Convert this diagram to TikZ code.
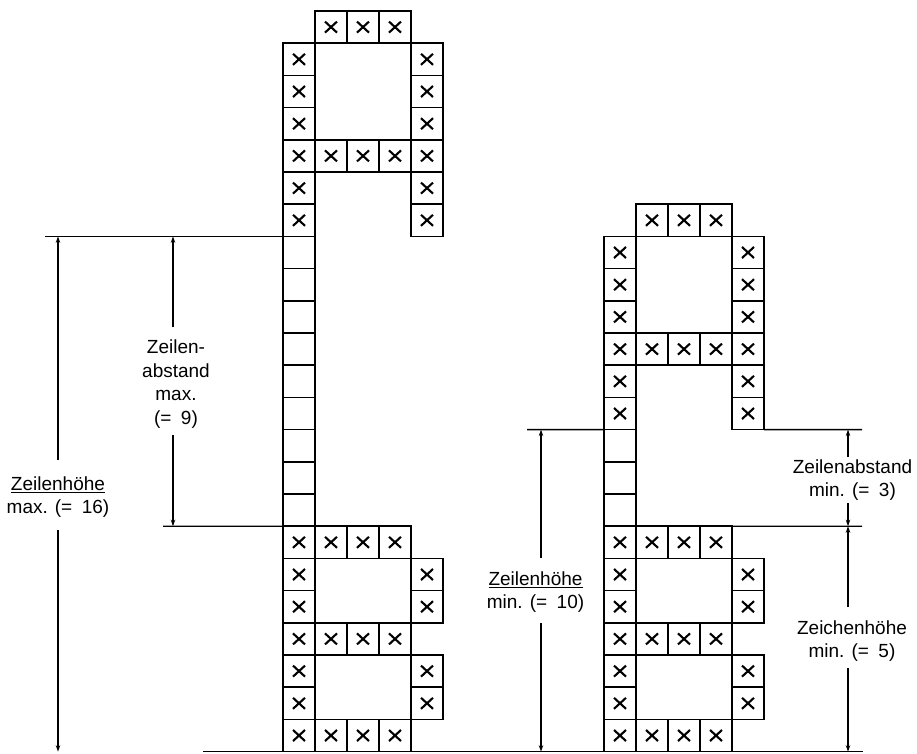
\documentclass[tikz,border=0pt]{standalone}
\usepackage{fontspec}
\setmainfont{Liberation Sans}
\usetikzlibrary{arrows.meta}
\newcommand{\letterfig}[4]{%
  \foreach \r/\c in {0/1,0/2,0/3,1/0,1/4,2/0,2/4,3/0,3/4,4/0,4/1,4/2,4/3,4/4,5/0,5/4,6/0,6/4}{
    \node[xcell] (#1a\r\c) at ({#2+16+32*\c},{27.1+32.2*(#3+\r)}) {};}
  \foreach \r in {1,...,#4}{
    \node[cell] (#1e\r) at ({#2+16},{27.1+32.2*(#3+6+\r)}) {};}
  \foreach \r/\c in {0/0,0/1,0/2,0/3,1/0,1/4,2/0,2/4,3/0,3/1,3/2,3/3,4/0,4/4,5/0,5/4,6/0,6/1,6/2,6/3}{
    \node[xcell] (#1b\r\c) at ({#2+16+32*\c},{27.1+32.2*(#3+7+#4+\r)}) {};}
}
\begin{document}
\begin{tikzpicture}[x=1pt,y=-1pt,
  cell/.style={draw, line width=1.5pt, minimum width=32pt, minimum height=32.2pt, inner sep=0pt, outer sep=0pt},
  xcell/.style={cell, path picture={
     \draw[line width=2.1pt]
       ([shift={(-6pt,-5.5pt)}]path picture bounding box.center) -- ([shift={(6pt,5.5pt)}]path picture bounding box.center)
       ([shift={(-6pt,5.5pt)}]path picture bounding box.center) -- ([shift={(6pt,-5.5pt)}]path picture bounding box.center);}},
  ext/.style={line width=1.4pt},
  dim/.style={line width=1.3pt, -{Stealth[length=6.5pt,width=4.5pt]}},
  lab/.style={font=\fontsize{19}{23.5}\selectfont, align=center, inner sep=0pt}]
\useasboundingbox (0,0) rectangle (917,753);

% letter figures
\letterfig{L}{283}{0}{9}
\letterfig{R}{604}{6}{3}

% left dimensions
\coordinate (topL) at (45,236.4);
\draw[ext] (topL) -- (Le1.north west);
\coordinate (midL) at (163,526.2);
\draw[ext] (midL) -- (Lb00.north west);

\coordinate (zhmT) at (58,236.4);
\coordinate (zhmB) at (58,751.6);
\coordinate (zhmG1) at (58,460);
\coordinate (zhmG2) at (58,530);
\draw[dim] (zhmG1) -- (zhmT);
\draw[dim] (zhmG2) -- (zhmB);
\node[lab] (zhmL) at (58,497) {\underline{Zeilenhöhe}\\max. (=\enspace16)};

\coordinate (zamT) at (173,236.4);
\coordinate (zamB) at (173,526.2);
\coordinate (zamG1) at (173,327);
\coordinate (zamG2) at (173,435);
\draw[dim] (zamG1) -- (zamT);
\draw[dim] (zamG2) -- (zamB);
\node[lab] (zamL) at (176,384) {Zeilen-\\abstand\\max.\\(=\enspace9)};

% right dimensions
\coordinate (rtopL) at (527,429.6);
\draw[ext] (rtopL) -- (Re1.north west);
\coordinate (rtopR) at (862,429.6);
\draw[ext] (Ra64.south east) -- (rtopR);
\coordinate (rmidR) at (862,526.2);
\draw[ext] (Rb03.north east) -- (rmidR);
\coordinate (botL) at (203,751.6);
\coordinate (botR) at (863,751.6);
\draw[ext] (botL) -- (botR);

\coordinate (zhnT) at (541,429.6);
\coordinate (zhnB) at (541,751.6);
\coordinate (zhnG1) at (541,558);
\coordinate (zhnG2) at (541,623);
\draw[dim] (zhnG1) -- (zhnT);
\draw[dim] (zhnG2) -- (zhnB);
\node[lab] (zhnL) at (535.5,592) {\underline{Zeilenhöhe}\\min. (=\enspace10)};

\coordinate (zanT) at (848,429.6);
\coordinate (zanB) at (848,526.2);
\coordinate (zanG1) at (848,457);
\coordinate (zanG2) at (848,503);
\draw[dim] (zanG1) -- (zanT);
\draw[dim] (zanG2) -- (zanB);
\node[lab] (zanL) at (852.5,480) {Zeilenabstand\\min. (=\enspace3)};

\coordinate (zcnT) at (848,526.2);
\coordinate (zcnB) at (848,751.6);
\coordinate (zcnG1) at (848,607);
\coordinate (zcnG2) at (848,668);
\draw[dim] (zcnG1) -- (zcnT);
\draw[dim] (zcnG2) -- (zcnB);
\node[lab] (zcnL) at (852,641) {Zeichenhöhe\\min. (=\enspace5)};
\end{tikzpicture}
\end{document}
